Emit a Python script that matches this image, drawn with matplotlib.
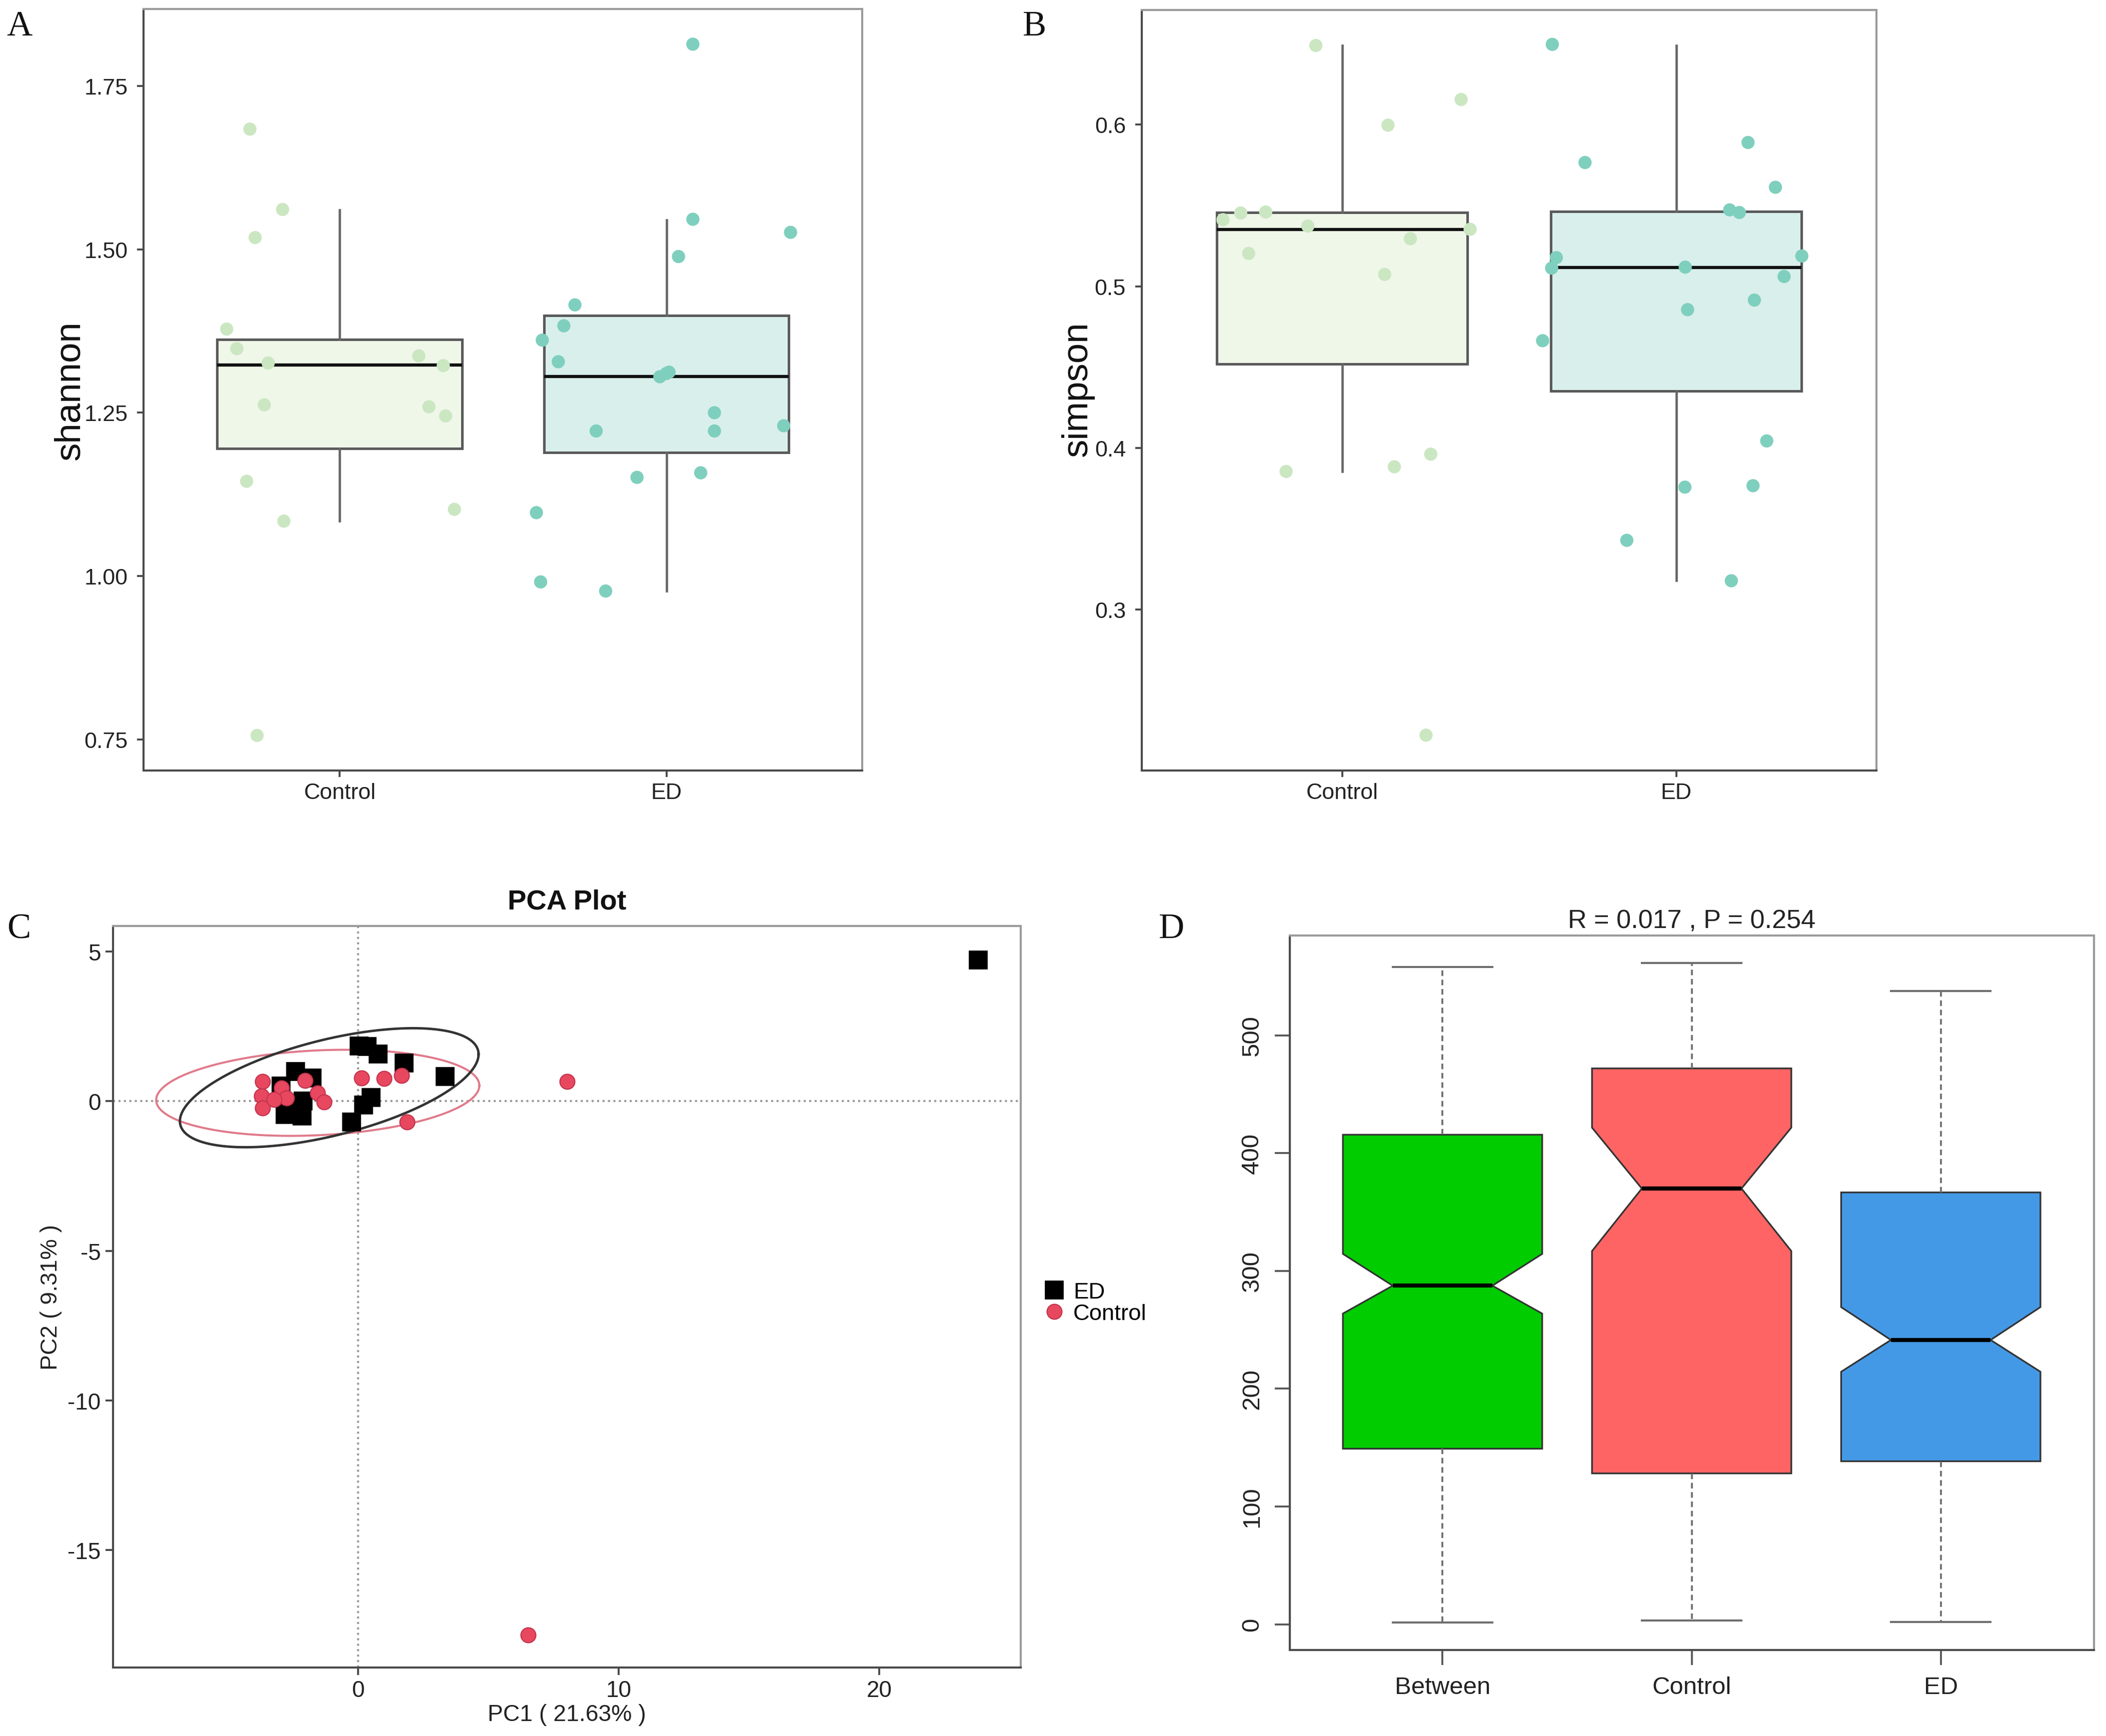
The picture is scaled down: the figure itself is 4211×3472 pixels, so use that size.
import numpy as np
import matplotlib
matplotlib.use("Agg")
import matplotlib.pyplot as plt
from matplotlib.lines import Line2D

plt.rcParams['font.family'] = ['Liberation Sans', 'DejaVu Sans']
plt.rcParams['axes.unicode_minus'] = False

# layout grid: 1568 x 1293 units, one unit = 0.01 inch
W, H = 1568, 1293

groups = ["Control", "ED"]

# ---- A: shannon (jittered points + box stats) ----
shannon_ctrl_x = [0.725, 0.825, 0.741, 0.654, 0.685, 0.781, 0.769, 0.715, 0.829, 0.747,
                  1.242, 1.317, 1.273, 1.324, 1.351]
shannon_ctrl_y = [1.684, 1.561, 1.518, 1.378, 1.348, 1.326, 1.262, 1.145, 1.084, 0.756,
                  1.337, 1.322, 1.259, 1.245, 1.102]
shannon_ed_x = [2.081, 2.081, 2.380, 2.037, 1.720, 1.686, 1.620, 1.669, 1.980, 2.000,
                2.008, 2.147, 1.785, 2.147, 2.359, 2.105, 1.910, 1.602, 1.615, 1.814]
shannon_ed_y = [1.814, 1.546, 1.526, 1.489, 1.415, 1.383, 1.361, 1.328, 1.305, 1.310,
                1.312, 1.250, 1.222, 1.222, 1.230, 1.158, 1.151, 1.097, 0.991, 0.977]
# q1, median, q3, lower whisker, upper whisker
shannon_box = [(1.195, 1.323, 1.362, 1.084, 1.560),
               (1.189, 1.305, 1.399, 0.977, 1.545)]

# ---- B: simpson ----
simpson_ctrl_x = [0.921, 1.356, 1.137, 0.643, 0.696, 0.771, 0.897, 0.720, 1.204, 1.383,
                  1.127, 0.832, 1.156, 1.265, 1.251]
simpson_ctrl_y = [0.649, 0.6156, 0.5997, 0.5412, 0.5454, 0.546, 0.5373, 0.5204, 0.5295, 0.5353,
                  0.5074, 0.3855, 0.3884, 0.3962, 0.2224]
simpson_ed_x = [1.629, 2.215, 1.727, 2.297, 2.160, 2.189, 1.641, 1.627, 2.027, 2.376,
                2.323, 2.234, 2.034, 1.600, 2.271, 2.026, 2.230, 1.852, 2.165]
simpson_ed_y = [0.6497, 0.5890, 0.5766, 0.5613, 0.5473, 0.5457, 0.5178, 0.5113, 0.5119, 0.5188,
                0.5061, 0.4915, 0.4856, 0.4664, 0.4044, 0.3758, 0.3767, 0.3429, 0.3179]
simpson_box = [(0.4521, 0.5353, 0.5457, 0.3855, 0.649),
               (0.4352, 0.5116, 0.5464, 0.3182, 0.649)]

# ---- C: PCA ----
pca_ed_x = [23.8, 0.05, 0.35, 0.78, 1.78, 3.35, 0.5, 0.22, -0.25, -2.4, -1.75, -2.95,
            -2.1, -2.8, -2.15, -2.6]
pca_ed_y = [4.72, 1.85, 1.82, 1.58, 1.28, 0.82, 0.12, -0.12, -0.7, 1.0, 0.78, 0.5,
            0.0, -0.45, -0.5, -0.2]
pca_ctrl_x = [8.02, 6.52, 0.14, 1.01, 1.68, 1.88, -3.65, -3.7, -3.65, -2.93, -2.74,
              -2.02, -1.54, -1.30, -3.22]
pca_ctrl_y = [0.66, -17.85, 0.77, 0.75, 0.86, -0.69, 0.66, 0.17, -0.22, 0.44, 0.11,
              0.69, 0.28, -0.03, 0.06]
# confidence ellipses: centre and shape matrix
ell_ed_center = (-1.1, 0.45)
ell_ed_shape = [[32.8, 6.4], [6.4, 3.96]]
ell_ctrl_center = (-1.54, 0.28)
ell_ctrl_shape = [[38.4, 1.5], [1.5, 2.07]]

# ---- D: ANOSIM distance ranks ----
anosim_groups = ["Between", "Control", "ED"]
anosim_med = [287.5, 370.0, 241.4]
anosim_q1 = [149.1, 128.1, 138.4]
anosim_q3 = [415.7, 472.0, 366.7]
anosim_lo = [1.4, 3.3, 1.9]
anosim_hi = [558.3, 561.5, 537.7]
anosim_cilo = [263.8, 316.9, 214.4]
anosim_cihi = [314.5, 421.7, 269.3]
anosim_colors = ["#00cc00", "#ff6464", "#4499e6"]

fig = plt.figure(figsize=(15.68, 12.93), dpi=268.6)


def add_ax(l, t, r, b):
    return fig.add_axes([l / W, 1 - b / H, (r - l) / W, (b - t) / H])


def ftext(x, y, s, **kw):
    fig.text(x / W, 1 - y / H, s, ha='center', va='center', **kw)


def frame(ax):
    for side in ['left', 'bottom']:
        ax.spines[side].set_color('#4a4a4a')
        ax.spines[side].set_linewidth(1.1)
    for side in ['top', 'right']:
        ax.spines[side].set_color('#9a9a9a')
        ax.spines[side].set_linewidth(1.1)


def diversity(ax, box, cx, cy, ex, ey, ylim, yticks, ylabel_pos, ylabel):
    stats = []
    for (q1, med, q3, lo, hi) in box:
        stats.append(dict(q1=q1, med=med, q3=q3, whislo=lo, whishi=hi, fliers=[]))
    b = ax.bxp(stats, positions=[1, 2], widths=0.75, patch_artist=True, showcaps=False,
               showfliers=False,
               boxprops=dict(edgecolor='#5a5a5a', linewidth=1.35),
               whiskerprops=dict(color='#666666', linewidth=1.25),
               medianprops=dict(color='#111111', linewidth=1.7))
    for patch, fc in zip(b['boxes'], ['#eff7e9', '#d9efec']):
        patch.set_facecolor(fc)
    ax.scatter(cx, cy, s=50, color='#cbe7c2', edgecolors='none', zorder=3)
    ax.scatter(ex, ey, s=50, color='#7fcfbe', edgecolors='none', zorder=3)
    ax.set_xlim(0.4, 2.6)
    ax.set_ylim(*ylim)
    ax.set_xticks([1, 2])
    ax.set_xticklabels(groups)
    ax.set_yticks(yticks)
    frame(ax)
    ax.tick_params(direction='out', length=3.6, width=1, color='#444444',
                   labelsize=12, labelcolor='#222222', pad=3)
    ax.tick_params(axis='y', pad=5)
    ftext(*ylabel_pos, ylabel, rotation=90, fontsize=19.5, color='#111111')


# A
axA = add_ax(107, 7, 642, 574)
diversity(axA, shannon_box, shannon_ctrl_x, shannon_ctrl_y, shannon_ed_x, shannon_ed_y,
          (0.7025, 1.868), [0.75, 1.00, 1.25, 1.50, 1.75], (52, 291), 'shannon')
axA.set_yticklabels(['0.75', '1.00', '1.25', '1.50', '1.75'])

# B
axB = add_ax(850, 8, 1397, 574)
diversity(axB, simpson_box, simpson_ctrl_x, simpson_ctrl_y, simpson_ed_x, simpson_ed_y,
          (0.2006, 0.6708), [0.3, 0.4, 0.5, 0.6], (802, 290), 'simpson')

# C
axC = add_ax(84, 690, 760, 1242)
axC.axhline(0, color='#9a9a9a', ls=':', lw=1.1, zorder=1)
axC.axvline(0, color='#9a9a9a', ls=':', lw=1.1, zorder=1)
t = np.linspace(0, 2 * np.pi, 300)
for cen, shp, col, lw in [(ell_ctrl_center, ell_ctrl_shape, '#e07a8a', 1.1),
                          (ell_ed_center, ell_ed_shape, '#333333', 1.3)]:
    L = np.linalg.cholesky(np.array(shp))
    xy = L @ np.vstack([np.cos(t), np.sin(t)])
    axC.plot(cen[0] + xy[0], cen[1] + xy[1], color=col, lw=lw, zorder=2)
axC.plot(pca_ed_x, pca_ed_y, 's', color='black', markersize=9, ls='none', zorder=3)
axC.plot(pca_ctrl_x, pca_ctrl_y, 'o', mfc='#e8485f', mec='#c3344c', mew=0.6,
         markersize=8, ls='none', zorder=4)
axC.set_xlim(-9.40, 25.43)
axC.set_ylim(-18.93, 5.85)
axC.set_xticks([0, 10, 20])
axC.set_yticks([-15, -10, -5, 0, 5])
frame(axC)
axC.tick_params(direction='out', length=4, width=1, color='#444444',
                labelsize=12.3, labelcolor='#222222', pad=2.5)
ftext(422, 672, 'PCA Plot', fontsize=15, fontweight='bold', color='#111111')
ftext(422, 1277, 'PC1 ( 21.63% )', fontsize=12.4, color='#222222')
ftext(38, 966, 'PC2 ( 9.31% )', fontsize=12.4, rotation=90, color='#222222')
handles = [Line2D([], [], marker='s', color='black', ls='none', markersize=9),
           Line2D([], [], marker='o', mfc='#e8485f', mec='#c3344c', mew=0.6,
                  ls='none', markersize=8)]
axC.legend(handles, ['ED', 'Control'], loc='upper left',
           bbox_to_anchor=(777 / W, 1 - 955 / H), bbox_transform=fig.transFigure,
           frameon=False, fontsize=12.2, handlelength=0.9, handletextpad=0.4,
           labelspacing=0.05, borderpad=0, borderaxespad=0)

# D
axD = add_ax(960, 697, 1559, 1229)
dstats = []
for i in range(3):
    dstats.append(dict(med=anosim_med[i], q1=anosim_q1[i], q3=anosim_q3[i],
                       whislo=anosim_lo[i], whishi=anosim_hi[i],
                       cilo=anosim_cilo[i], cihi=anosim_cihi[i], fliers=[]))
bd = axD.bxp(dstats, positions=[1, 2, 3], widths=0.8, patch_artist=True,
             shownotches=True, showfliers=False,
             boxprops=dict(edgecolor='#333333', linewidth=0.9),
             whiskerprops=dict(color='#6e6e6e', linewidth=1.0, linestyle=(0, (3, 2))),
             capprops=dict(color='#6e6e6e', linewidth=1.1),
             medianprops=dict(color='black', linewidth=2.2))
for patch, fc in zip(bd['boxes'], anosim_colors):
    patch.set_facecolor(fc)
axD.set_xlim(0.386, 3.616)
axD.set_ylim(-21.9, 584.8)
axD.set_xticks([1, 2, 3])
axD.set_xticklabels(anosim_groups)
axD.set_yticks([0, 100, 200, 300, 400, 500])
frame(axD)
axD.tick_params(direction='out', length=8, width=1, color='#555555',
                labelsize=13.2, labelcolor='#222222', pad=6)
for lab in axD.get_yticklabels():
    lab.set_rotation(90)
    lab.set_va('center')
ftext(1259.5, 686, 'R = 0.017 , P = 0.254', fontsize=14, color='#222222')

# panel letters
for x, y, s in [(14.5, 20, 'A'), (770, 20, 'B'), (14, 692, 'C'), (872, 692, 'D')]:
    ftext(x, y, s, fontsize=19, family='Liberation Serif', color='#111111')

fig.savefig('out.png', dpi=268.6)
